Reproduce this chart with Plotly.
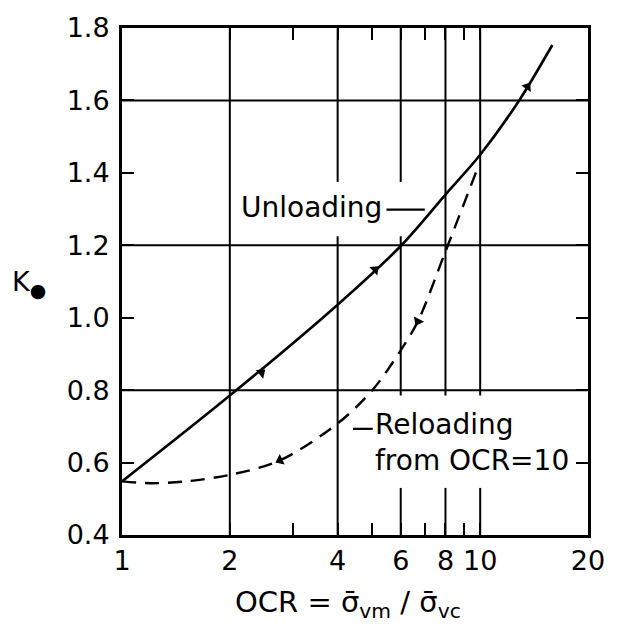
import numpy as np
import plotly.graph_objects as go

# ---- data ----
unload_ocr = [1.0, 2.0, 4.0, 6.0, 8.0, 10.0, 12.85, 15.9]
unload_k = [0.548, 0.785, 1.036, 1.198, 1.34, 1.45, 1.60, 1.753]
unload_arrow_ocr = [2.45, 5.09, 13.55]
unload_arrow_k = [0.848, 1.133, 1.638]
unload_arrow_angle = [50, 47, 34]

reload_ocr = [1.0, 1.2, 1.5, 2.0, 2.76, 4.0, 5.0, 6.0, 6.7, 8.0, 9.9]
reload_k = [0.548, 0.543, 0.548, 0.566, 0.606, 0.708, 0.80, 0.91, 0.99, 1.183, 1.42]
reload_arrow_ocr = [2.76, 6.7]
reload_arrow_k = [0.606, 0.99]
reload_arrow_angle = [245, 208]

x_tickvals = [1, 2, 3, 4, 5, 6, 7, 8, 9, 10, 20]
x_ticktext = ["1", "2", "", "4", "", "6", "", "8", "", "10", "20"]
y_tickvals = [0.4, 0.6, 0.8, 1.0, 1.2, 1.4, 1.6, 1.8]
y_ticktext = ["0.4", "0.6", "0.8", "1.0", "1.2", "1.4", "1.6", "1.8"]
y_grid = [0.8, 1.2, 1.6]
# vertical grid lines: (OCR value, list of K spans drawn; gaps leave room for labels)
x_grid = [
    (2, [(0.4, 1.8)]),
    (4, [(0.4, 1.225), (1.375, 1.8)]),
    (6, [(0.4, 0.53), (0.785, 1.225), (1.375, 1.8)]),
    (8, [(0.4, 0.53), (0.785, 1.8)]),
    (10, [(0.4, 0.53), (0.785, 1.8)]),
]

FONT = "DejaVu Sans"
W, H = 617, 640
L, R, T, B = 122, 21, 24, 105
pw, ph = W - L - R, H - T - B


def px(xp):
    return (xp - L) / pw


def py(yp):
    return (H - B - yp) / ph


fig = go.Figure()

fig.add_trace(go.Scatter(x=unload_ocr, y=unload_k, mode="lines",
                         line=dict(color="black", width=2.6, shape="spline", smoothing=0.9),
                         hoverinfo="skip", showlegend=False))
fig.add_trace(go.Scatter(x=reload_ocr, y=reload_k, mode="lines",
                         line=dict(color="black", width=2.4, shape="spline", smoothing=0.9,
                                   dash="14px,9px"),
                         hoverinfo="skip", showlegend=False))
fig.add_trace(go.Scatter(x=unload_arrow_ocr, y=unload_arrow_k, mode="markers",
                         marker=dict(symbol="triangle-up", size=10, color="black",
                                     angle=unload_arrow_angle),
                         hoverinfo="skip", showlegend=False))
fig.add_trace(go.Scatter(x=reload_arrow_ocr, y=reload_arrow_k, mode="markers",
                         marker=dict(symbol="triangle-up", size=10, color="black",
                                     angle=reload_arrow_angle),
                         hoverinfo="skip", showlegend=False))

shapes = []
for xv, spans in x_grid:
    for y0, y1 in spans:
        shapes.append(dict(type="line", xref="x", yref="y", x0=xv, x1=xv, y0=y0, y1=y1,
                           line=dict(color="black", width=2), layer="below"))
for yv in y_grid:
    shapes.append(dict(type="line", xref="paper", yref="y", x0=0, x1=1, y0=yv, y1=yv,
                       line=dict(color="black", width=2), layer="below"))
# leader lines from the labels
shapes.append(dict(type="line", xref="paper", yref="paper", x0=px(391), x1=px(430),
                   y0=py(207), y1=py(207), line=dict(color="black", width=2.2)))
shapes.append(dict(type="line", xref="paper", yref="paper", x0=px(357), x1=px(377),
                   y0=py(428), y1=py(428), line=dict(color="black", width=2.2)))

annotations = [
    dict(text="Unloading", xref="paper", yref="paper", x=px(242), y=py(205),
         xanchor="left", yanchor="middle", showarrow=False, borderpad=0,
         font=dict(family=FONT, size=28, color="black")),
    dict(text="Reloading<br>from OCR=10", xref="paper", yref="paper", x=px(378), y=py(442),
         xanchor="left", yanchor="middle", align="left", showarrow=False, borderpad=0,
         font=dict(family=FONT, size=28, color="black")),
    dict(text="K<sub>\u25cf</sub>", xref="paper", yref="paper", x=px(27), y=py(282),
         xanchor="center", yanchor="middle", showarrow=False,
         font=dict(family=FONT, size=27, color="black")),
    dict(text="OCR = \u03c3\u0304<sub>vm</sub> / \u03c3\u0304<sub>vc</sub>",
         xref="paper", yref="paper", x=px(352), y=py(605),
         xanchor="center", yanchor="middle", showarrow=False,
         font=dict(family=FONT, size=29, color="black")),
]

fig.update_layout(
    width=W, height=H,
    margin=dict(l=L, r=R, t=T, b=B, pad=0),
    paper_bgcolor="white", plot_bgcolor="white",
    shapes=shapes, annotations=annotations,
    font=dict(family=FONT, size=27, color="black"),
    xaxis=dict(type="log", range=[0, np.log10(20)], tickmode="array",
               tickvals=x_tickvals, ticktext=x_ticktext,
               ticks="inside", ticklen=12, tickwidth=2, tickcolor="black",
               showline=True, linecolor="black", linewidth=3, mirror="ticks",
               showgrid=False, zeroline=False, ticklabelstandoff=0,
               tickfont=dict(family=FONT, size=27, color="black")),
    yaxis=dict(range=[0.4, 1.8], tickmode="array",
               tickvals=y_tickvals, ticktext=y_ticktext,
               ticks="inside", ticklen=12, tickwidth=2, tickcolor="black",
               showline=True, linecolor="black", linewidth=3, mirror="ticks",
               showgrid=False, zeroline=False, ticklabelstandoff=4,
               tickfont=dict(family=FONT, size=27, color="black")),
)

fig.write_html("out.html", config={"displayModeBar": False},
               post_script="document.body.style.margin='0';")
